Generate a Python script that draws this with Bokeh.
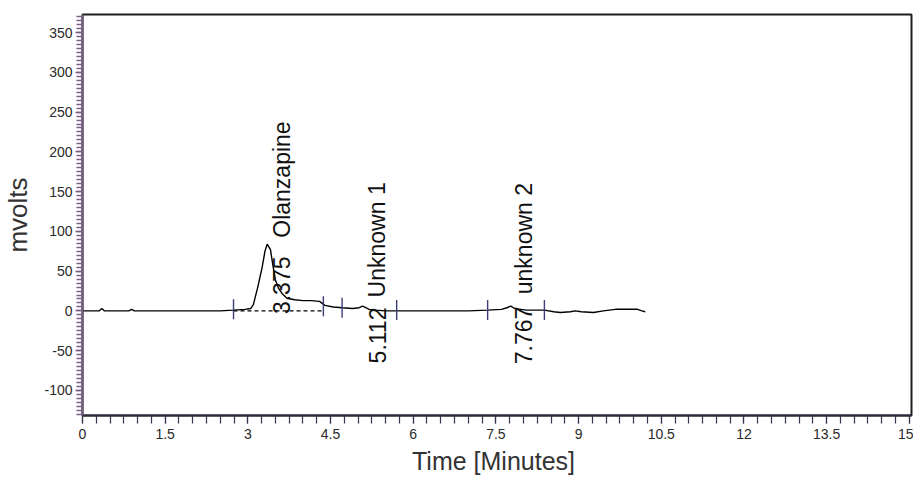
import numpy as np
from bokeh.plotting import figure
from bokeh.models import FixedTicker, ColumnDataSource, Range1d
from bokeh.core.properties import value
from bokeh.embed import file_html
from bokeh.resources import INLINE

# ---- chromatogram trace (minutes, mV) ----
time_min = [0.0, 0.30, 0.35, 0.40, 0.60, 0.84, 0.89, 0.94, 1.5, 2.0, 2.5, 2.74,
            2.95, 3.05, 3.10, 3.18, 3.26, 3.31, 3.35, 3.41, 3.46, 3.50, 3.56,
            3.62, 3.71, 3.85, 4.0, 4.15, 4.30, 4.40, 4.55, 4.71, 4.90, 5.02,
            5.08, 5.14, 5.20, 5.30, 5.50, 5.70, 6.0, 6.5, 7.0, 7.35, 7.60,
            7.70, 7.77, 7.84, 7.95, 8.06, 8.38, 8.55, 8.67, 8.85, 8.94, 9.05,
            9.27, 9.45, 9.67, 9.85, 10.07, 10.15, 10.21]
signal_mv = [0, 0, 3, 0, 0, 0, 2, 0, 0, 0, 0, 1,
             2, 3, 8, 30, 55, 75, 84, 77, 55, 39, 28,
             22, 16, 14, 13, 13, 12, 7, 5, 4, 3, 4,
             6, 4, 2, 1, 0, 0, 0, 0, 0, 1, 2,
             4, 6, 3, 2, 1, 1, -1, -2, -1, 0, -1,
             -2, 0, 2, 2, 2, 0, -1]

# ---- integration events (start / end marks) ----
event_time = [2.74, 4.37, 4.71, 5.70, 7.35, 8.38]
event_mv = [2, 6, 4, 1, 1, 1]

# ---- peak labels ----
peak_rt = [3.375, 5.112, 7.767]
peak_rt_text = ["3.375", "5.112", "7.767"]
peak_name = ["Olanzapine", "Unknown 1", "unknown 2"]
rt_text_start = [-4, -66, -67]
name_text_start = [92, 17, 21]

# ---- axes ----
x_ticks = [0, 1.5, 3, 4.5, 6, 7.5, 9, 10.5, 12, 13.5, 15]
x_tick_labels = ["0", "1.5", "3", "4.5", "6", "7.5", "9", "10.5", "12", "13.5", "15"]
y_ticks = [-100, -50, 0, 50, 100, 150, 200, 250, 300, 350]
y_tick_labels = ["-100", "-50", "0", "50", "100", "150", "200", "250", "300", "350"]

p = figure(width=913, height=485,
           x_range=Range1d(0, 15.04), y_range=Range1d(-131.5, 372.7),
           output_backend="svg", toolbar_location=None,
           min_border_left=82, min_border_right=2,
           min_border_top=14, min_border_bottom=70)

p.background_fill_color = "white"
p.border_fill_color = "white"
p.xgrid.visible = False
p.ygrid.visible = False
p.outline_line_color = "#1e1e1e"
p.outline_line_width = 2

# x axis
xa = p.xaxis[0]
xa.ticker = FixedTicker(ticks=x_ticks,
                        minor_ticks=list(np.round(np.arange(0, 15.01, 0.25), 2)))
xa.major_label_overrides = {t: l for t, l in zip(x_ticks, x_tick_labels)}
xa.major_tick_in = 0
xa.major_tick_out = 8
xa.minor_tick_in = 0
xa.minor_tick_out = 8
xa.major_tick_line_color = "#3a3550"
xa.minor_tick_line_color = "#3a3550"
xa.major_tick_line_width = 1.2
xa.minor_tick_line_width = 1.2
xa.axis_line_color = "#2e2840"
xa.axis_line_width = 2
xa.major_label_text_font = "Liberation Sans"
xa.major_label_text_font_size = "14px"
xa.major_label_text_color = "#2a2a2a"
xa.major_label_standoff = 5
xa.axis_label = "Time  [Minutes]"
xa.axis_label_text_font = "Liberation Sans"
xa.axis_label_text_font_size = "25px"
xa.axis_label_text_font_style = "normal"
xa.axis_label_text_color = "#333333"
xa.axis_label_standoff = 5

# y axis
ya = p.yaxis[0]
ya.ticker = FixedTicker(ticks=y_ticks,
                        minor_ticks=list(range(-130, 371, 5)))
ya.major_label_overrides = {t: l for t, l in zip(y_ticks, y_tick_labels)}
ya.major_tick_in = 0
ya.major_tick_out = 7
ya.minor_tick_in = 0
ya.minor_tick_out = 6
ya.major_tick_line_color = "#7d5f8c"
ya.minor_tick_line_color = "#7d5f8c"
ya.major_tick_line_width = 1.5
ya.minor_tick_line_width = 1.5
ya.axis_line_color = "#6d5a7a"
ya.axis_line_width = 2
ya.major_label_text_font = "Liberation Sans"
ya.major_label_text_font_size = "14px"
ya.major_label_text_color = "#2a2a2a"
ya.major_label_standoff = 3
ya.axis_label = "mvolts"
ya.axis_label_text_font = "Liberation Sans"
ya.axis_label_text_font_size = "26px"
ya.axis_label_text_font_style = "normal"
ya.axis_label_text_color = "#333333"
ya.axis_label_standoff = 8

# trace
p.line(time_min, signal_mv, line_color="black", line_width=1.4)

# dashed baseline under the main peak
p.line([event_time[0], event_time[1]], [0, 0], line_color="black",
       line_width=1.3, line_dash="4 3")

# event marks
p.scatter(event_time, event_mv, marker="dash", angle=np.pi / 2, size=20,
          line_color="#3d3d7a", line_width=1.4)

# labels
lab = ColumnDataSource(dict(x=peak_rt, rt_y=rt_text_start, name_y=name_text_start,
                            rt=peak_rt_text, name=peak_name))
for fld_y, fld_t in (("rt_y", "rt"), ("name_y", "name")):
    p.text(x="x", y=fld_y, text=fld_t, source=lab, angle=np.pi / 2,
           x_offset=13, text_align="left", text_baseline="middle",
           text_font=value("Liberation Sans"), text_font_size="23px",
           text_color="#111111")

open("out.html", "w").write(file_html(p, INLINE))
